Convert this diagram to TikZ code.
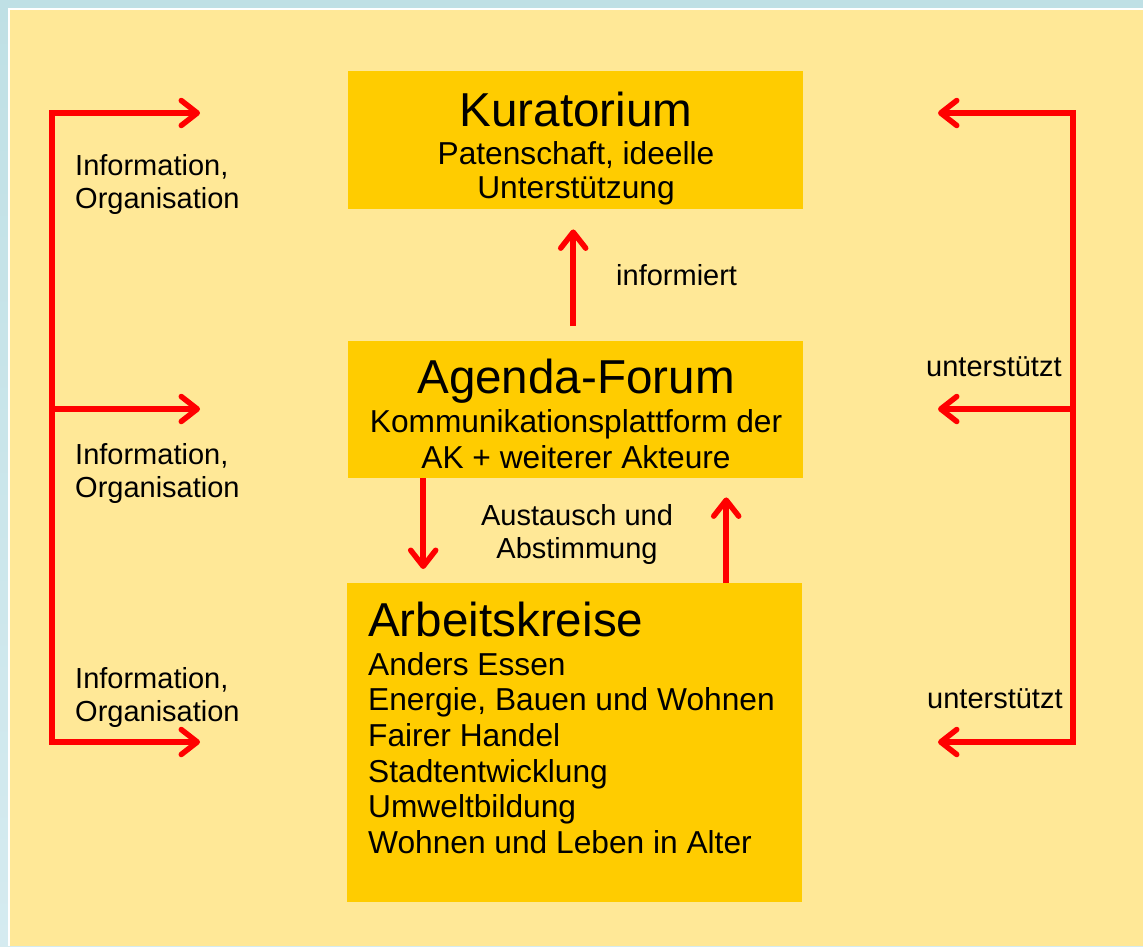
\documentclass[tikz,border=0pt]{standalone}
\usepackage{fontspec}
\setmainfont{Liberation Sans}
\usetikzlibrary{arrows.meta,calc}
\definecolor{bgyellow}{HTML}{FFE897}
\definecolor{boxyellow}{HTML}{FFCC00}
\definecolor{framea}{HTML}{BFE0E5}
\definecolor{frameb}{HTML}{D5EBF0}
\definecolor{arrred}{HTML}{FF0000}
\tikzset{
  box/.style={fill=boxyellow, draw=none, inner sep=0pt, anchor=north west},
  titletext/.style={font=\fontsize{47.6}{55}\selectfont, inner sep=0pt},
  subtext/.style={font=\fontsize{31.7}{36}\selectfont, inner sep=0pt},
  lbl/.style={font=\fontsize{29}{33}\selectfont, inner sep=0pt},
  barb/.tip={Straight Barb[length=16pt, width=25pt, round]},
  conn/.style={draw=arrred, line width=5.5pt, line join=miter},
  arr/.style={conn, -barb},
  arrboth/.style={conn, barb-barb},
}
\begin{document}
\begin{tikzpicture}[x=1pt,y=-1pt]
\useasboundingbox (0,0) rectangle (1143,946);
% frame and background
\shade[top color=framea, bottom color=frameb] (0,0) rectangle (1143,946);
\fill[white] (8,8) rectangle (1143,946);
\fill[bgyellow] (10,10) rectangle (1143,946);

% boxes
\node[box, minimum width=455pt, minimum height=138pt] (kur) at (348,71) {};
\node[box, minimum width=455pt, minimum height=137pt] (agf) at (348,341) {};
\node[box, minimum width=455pt, minimum height=319pt] (ak) at (347,583) {};

% box texts
\node[titletext, anchor=base] (kurT) at (576,126) {Kuratorium};
\node[subtext, anchor=base] (kur1) at (576,164) {Patenschaft, ideelle};
\node[subtext, anchor=base] (kur2) at (576,198) {Unterstützung};

\node[titletext, anchor=base] (agfT) at (576,393) {Agenda-Forum};
\node[subtext, anchor=base] (agf1) at (576,432) {Kommunikationsplattform der};
\node[subtext, anchor=base] (agf2) at (576,468) {AK + weiterer Akteure};

\node[titletext, anchor=base west] (akT) at (368,636) {Arbeitskreise};
\node[subtext, anchor=base west] (ak1) at (368,675) {Anders Essen};
\node[subtext, anchor=base west] (ak2) at (368,710) {Energie, Bauen und Wohnen};
\node[subtext, anchor=base west] (ak3) at (368,746) {Fairer Handel};
\node[subtext, anchor=base west] (ak4) at (368,782) {Stadtentwicklung};
\node[subtext, anchor=base west] (ak5) at (368,817) {Umweltbildung};
\node[subtext, anchor=base west] (ak6) at (368,853) {Wohnen und Leben in Alter};

% labels
\node[lbl, anchor=base west] (l1a) at (75,175) {Information,};
\node[lbl, anchor=base west] (l1b) at (75,208) {Organisation};
\node[lbl, anchor=base west] (l2a) at (75,464) {Information,};
\node[lbl, anchor=base west] (l2b) at (75,497) {Organisation};
\node[lbl, anchor=base west] (l3a) at (75,688) {Information,};
\node[lbl, anchor=base west] (l3b) at (75,721) {Organisation};
\node[lbl, anchor=base west] (r1) at (926,376) {unterstützt};
\node[lbl, anchor=base west] (r2) at (927,708) {unterstützt};
\node[lbl, anchor=base west] (inf) at (616,285) {informiert};
\node[lbl, anchor=base] (aus1) at (577,525) {Austausch und};
\node[lbl, anchor=base] (aus2) at (577,558) {Abstimmung};

% vertical arrows between boxes
\draw[arr] ([xshift=-2.5pt,yshift=15pt]agf.north) -- ([xshift=-2.5pt,yshift=-20pt]kur.south);
\draw[arr] ([xshift=-152.5pt]agf.south) -- ([xshift=-151.5pt,yshift=14pt]ak.north);
\draw[arr] ([xshift=151.5pt]ak.north) -- ([xshift=150.5pt,yshift=-19pt]agf.south);

% left bracket
\coordinate (LA) at (52,113);
\coordinate (LB) at (52,409);
\coordinate (LC) at (52,742);
\coordinate (la) at (200,113);
\coordinate (lb) at (200,409);
\coordinate (lc) at (200,742);
\draw[arrboth] (la) -- (LA) -- (LC) -- (lc);
\draw[arr] (LB) -- (lb);

% right bracket
\coordinate (RA) at (1073,113);
\coordinate (RB) at (1073,409);
\coordinate (RC) at (1073,742);
\coordinate (ra) at (938,113);
\coordinate (rb) at (938,409);
\coordinate (rc) at (938,742);
\draw[arrboth] (ra) -- (RA) -- (RC) -- (rc);
\draw[arr] (RB) -- (rb);
\end{tikzpicture}
\end{document}
